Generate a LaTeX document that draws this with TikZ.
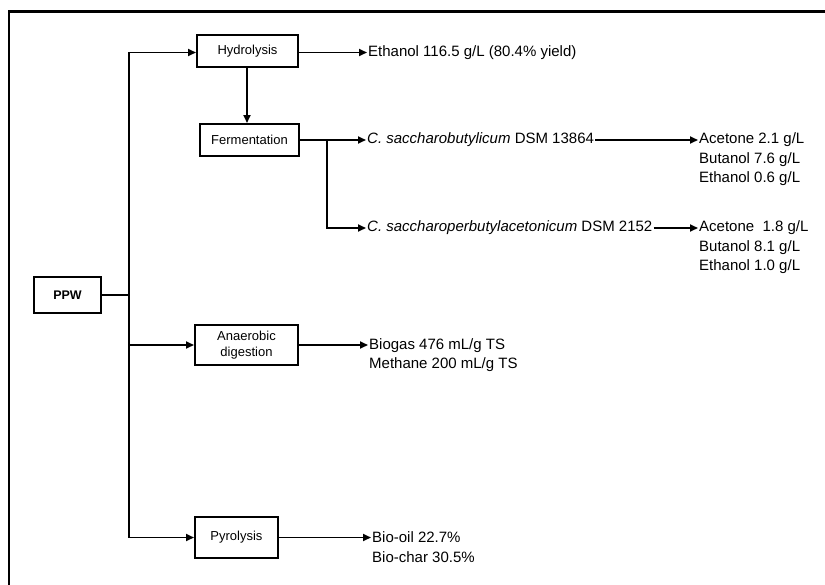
\documentclass[tikz,border=0pt]{standalone}
\usepackage{fontspec}
\setmainfont{Liberation Sans}
\usetikzlibrary{arrows.meta,positioning}

\begin{document}
\begin{tikzpicture}[x=1pt,y=-1pt,font=\fontsize{15}{19.5}\selectfont]
% Styles for the process boxes, the products and the connectors
\tikzset{
process box/.style={draw,line width=2pt,minimum height=32pt,inner sep=2pt,font=\fontsize{13}{16}\selectfont},
product text/.style={anchor=west,align=left,inner sep=1pt},
flow line/.style={line width=1.7pt},
flow arrow/.style={flow line,-{Triangle[length=8pt,width=7pt]}}
}

\useasboundingbox (0,0) rectangle (825,584);
% The frame, cut off at right and bottom
\draw[line width=2.4pt] (9,600) |- (840,11.5);

% The process boxes
\node(ppw)[process box,minimum width=67pt,minimum height=36pt,font=\bfseries\fontsize{12.5}{16}\selectfont] at (67.5,295){PPW};
\node(hyd)[process box,minimum width=101pt] at (247.5,51){Hydrolysis};
\node(fer)[process box,minimum width=99pt] at (249.5,140){Fermentation};
\node(ana)[process box,minimum width=103pt,minimum height=40pt,align=center] at (246.5,345){Anaerobic\\digestion};
\node(pyr)[process box,minimum width=83pt,minimum height=41pt] at (236.5,537.5){Pyrolysis};

% The products
\node(eth)[product text] at (367,52.5){Ethanol 116.5 g/L (80.4\% yield)};
\node(cs1)[product text] at (366,140){\textit{C. saccharobutylicum} DSM 13864};
\node(cs2)[product text] at (366,228){\textit{C. saccharoperbutylacetonicum} DSM 2152};
\node(abe1)[product text] at (698,159.5){Acetone 2.1 g/L\\Butanol 7.6 g/L\\Ethanol 0.6 g/L};
\node(abe2)[product text] at (698,247.5){Acetone\ \ 1.8 g/L\\Butanol 8.1 g/L\\Ethanol 1.0 g/L};
\node(gas)[product text] at (368,355){Biogas 476 mL/g TS\\Methane 200 mL/g TS};
\node(oil)[product text] at (371,547){Bio-oil 22.7\%\\Bio-char 30.5\%};

% The connectors
\coordinate(split) at (129,295);
\coordinate(fork) at (327,140);
\draw[line width=1.2pt] (ppw.east) -- (split);
\draw[flow arrow] (split) |- (hyd.west |- eth.west);
\draw[flow arrow] (split) |- (ana.west);
\draw[flow arrow] (split) |- (pyr.west);
\draw[flow arrow] (hyd.east |- eth.west) -- (eth.west);
\draw[flow arrow] (hyd.south -| 0,0) ++(247,0) -- (fer.north -| 247,0);
\draw[flow line] (fer.east) -- (fork);
\draw[flow arrow] (fork) -- (cs1.west);
\draw[flow arrow] (fork) |- (cs2.west);
\draw[flow arrow] (cs1.east) -- (abe1.west |- cs1.east);
\draw[flow arrow] (cs2.east) -- (abe2.west |- cs2.east);
\draw[flow arrow] (ana.east) -- (gas.west |- ana.east);
\draw[flow arrow] (pyr.east) -- (oil.west |- pyr.east);

\end{tikzpicture}
\end{document}
